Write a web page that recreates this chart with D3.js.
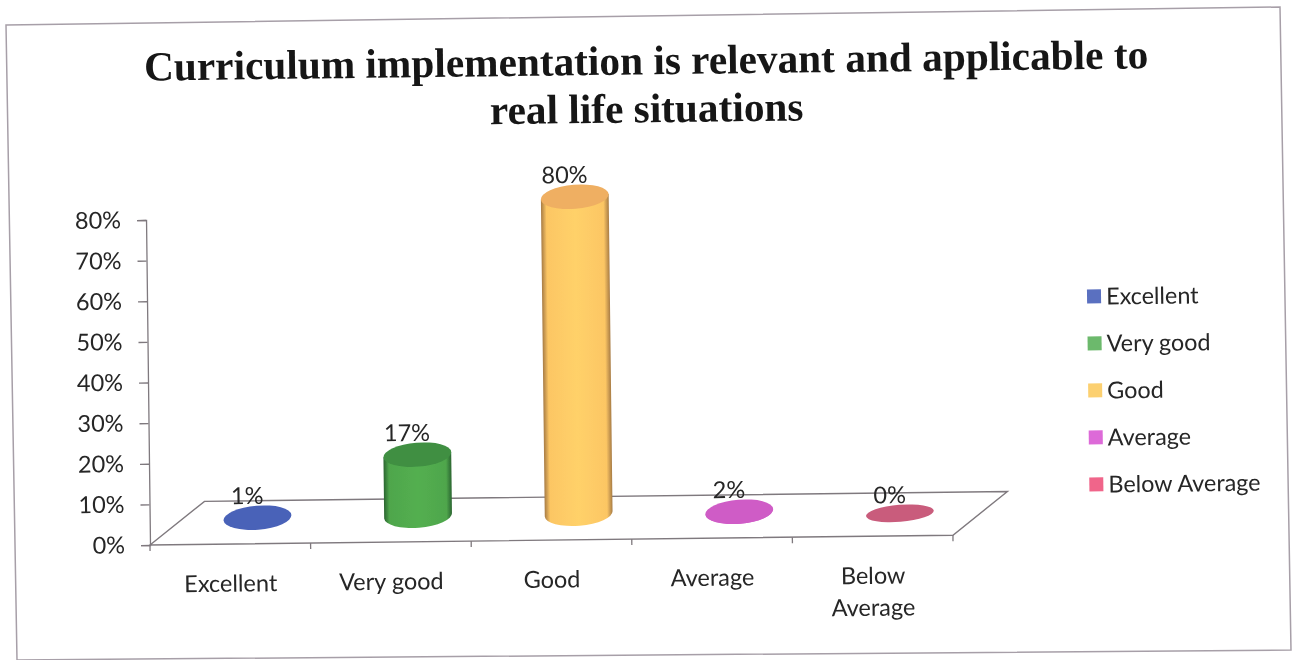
<!DOCTYPE html>
<html><head><meta charset="utf-8">
<script src="https://cdnjs.cloudflare.com/ajax/libs/d3/7.8.5/d3.min.js"></script>
<style>html,body{margin:0;padding:0;background:#fff;overflow:hidden}svg{display:block}</style>
</head><body><svg id="c" width="1293" height="660"></svg>
<script>
const titleLines = ["Curriculum implementation is relevant and applicable to", "real life situations"];
const categories = ["Excellent", "Very good", "Good", "Average", "Below Average"];
const values = [1, 17, 80, 2, 0];
const yTicks = [0, 10, 20, 30, 40, 50, 60, 70, 80];
const sideColors = ["#4a62b8", "#4fa64c", "#fcc664", "#cf5cc6", "#c95c7c"];
const topColors = ["#4a62b8", "#3f8f42", "#efaf62", "#cf5cc6", "#c95c7c"];
const edgeColors = ["#4a62b8", "#2a6530", "#a87c45", "#cf5cc6", "#c95c7c"];
const legendColors = ["#5a6fc0", "#6cb96c", "#fcd070", "#dd6ad8", "#f0658a"];

const svg = d3.select("#c");
const FONT = "Lato, 'Open Sans', sans-serif", INK = "#262626", LINE = "#7f797e";
const defs = svg.append("defs");
defs.append("filter").attr("id", "soft").append("feGaussianBlur").attr("stdDeviation", 0.45);
sideColors.forEach((c, i) => {
  const g = defs.append("linearGradient").attr("id", "side" + i);
  [[0, edgeColors[i]], [0.08, c], [0.5, d3.color(c).brighter(0.15)], [0.92, c], [1, edgeColors[i]]]
    .forEach(([o, col]) => g.append("stop").attr("offset", o).attr("stop-color", col));
});

const root = svg.append("g").attr("filter", "url(#soft)");
root.append("polygon").attr("points", "6,25 1280,7 1291,650 17,660")
  .attr("fill", "none").attr("stroke", "#a79fa8").attr("stroke-width", 1.5);

const ox = 150, oy = 545, W = 803, depthX = 55, depthY = 43, tilt = -4;
const g = root.append("g").attr("transform", `rotate(-0.7 ${ox} ${oy})`);

const x = d3.scaleBand().domain(categories).range([ox, ox + W]);
const y = d3.scaleLinear().domain([0, 80]).range([oy, 220]);

g.append("g").selectAll("text").data(titleLines).join("text")
  .attr("x", 652).attr("y", (d, i) => 80.5 + i * 48).attr("text-anchor", "middle")
  .attr("font-family", "'Liberation Serif', serif").attr("font-weight", "bold").attr("font-size", 41.3)
  .attr("fill", "#141414").text(d => d);

// floor
g.append("polygon")
  .attr("points", [[ox, oy], [ox + depthX, oy - depthY], [ox + W + depthX, oy - depthY], [ox + W, oy]].join(" "))
  .attr("fill", "none").attr("stroke", LINE).attr("stroke-width", 1.4);

// y axis
const yAxis = g.append("g").attr("transform", `translate(${ox},0)`)
  .call(d3.axisLeft(y).tickValues(yTicks).tickSize(9).tickPadding(16).tickFormat(d => d + "%"));
yAxis.selectAll("line,path").attr("stroke", LINE).attr("stroke-width", 1.3);
yAxis.selectAll("text").attr("font-family", FONT).attr("font-size", 23.5).attr("fill", INK);

// x axis
const xAxis = g.append("g").attr("transform", `translate(0,${oy})`)
  .call(d3.axisBottom(x).tickSize(0).tickPadding(31));
xAxis.select("path").remove();
xAxis.selectAll("text").attr("font-family", FONT).attr("font-size", 23.5).attr("fill", INK)
  .each(function (d) {
    const words = d === "Below Average" ? d.split(" ") : [d];
    const t = d3.select(this).text(null);
    words.forEach((w, i) => t.append("tspan").attr("x", 0).attr("dy", i ? 32 : "0.71em").text(w));
  });
g.append("g").selectAll("line").data(categories.map((c, i) => ox + i * x.step()).concat(ox + W)).join("line")
  .attr("x1", d => d).attr("x2", d => d).attr("y1", oy).attr("y2", oy + 6)
  .attr("stroke", LINE).attr("stroke-width", 1.3);

// cylinders
const rx = 34, baseLift = 26, fullRy = 12, rad = tilt * Math.PI / 180;
const ex = rx * Math.cos(rad), ey = rx * Math.sin(rad);
const bars = g.append("g").selectAll("g").data(values).join("g")
  .attr("transform", (d, i) => `translate(${x(categories[i]) + x.bandwidth() / 2 + depthX / 2},${oy - baseLift})`);
const ry = d => d === 0 ? 8.5 : fullRy;
const h = d => Math.max(0, y(0) - y(d) - 8);
const cy = d => fullRy - ry(d) - h(d);
bars.filter(d => h(d) > 0).append("path")
  .attr("fill", d => `url(#side${values.indexOf(d)})`)
  .attr("d", d => `M${-ex},${-ey - h(d)}L${-ex},${-ey}A${rx},${ry(d)} ${tilt} 0 0 ${ex},${ey}L${ex},${ey - h(d)}Z`);
bars.append("ellipse")
  .attr("rx", rx).attr("ry", ry)
  .attr("transform", d => `translate(0,${cy(d)}) rotate(${tilt})`)
  .attr("fill", (d, i) => topColors[i]);
bars.append("text")
  .attr("x", -10).attr("y", d => cy(d) - ry(d) - 10).attr("dy", "0.35em")
  .attr("text-anchor", "middle").attr("font-family", FONT).attr("font-size", 23.5).attr("fill", INK)
  .text(d => d + "%");

// legend
const legendY = d3.scalePoint().domain(categories).range([308, 496]);
const leg = g.append("g").selectAll("g").data(categories).join("g")
  .attr("transform", d => `translate(1090,${legendY(d)})`);
leg.append("rect").attr("x", 0).attr("y", -7).attr("width", 14).attr("height", 14)
  .attr("fill", (d, i) => legendColors[i]);
leg.append("text").attr("x", 19).attr("dy", "0.35em")
  .attr("font-family", FONT).attr("font-size", 23.4).attr("fill", INK).text(d => d);
</script></body></html>
